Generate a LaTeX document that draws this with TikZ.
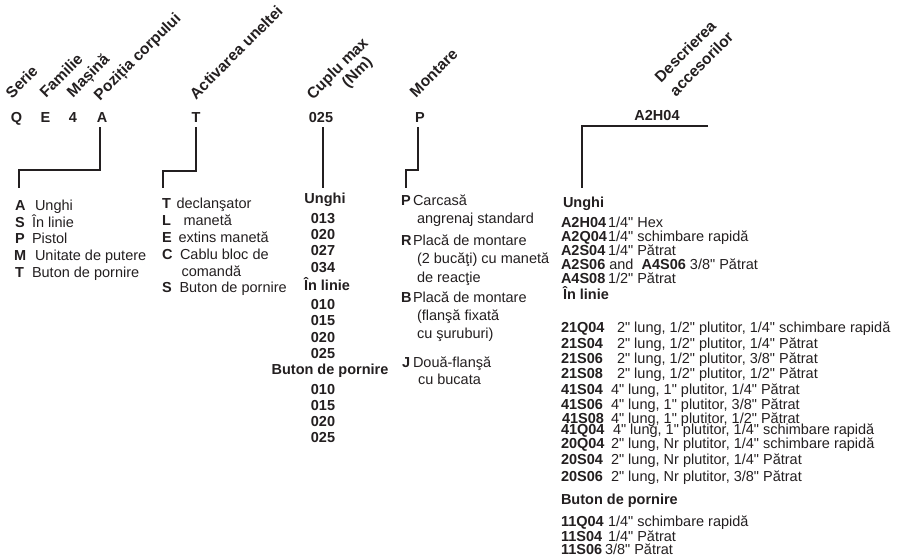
\documentclass[tikz,border=0pt]{standalone}
\usepackage{fontspec}
\setmainfont{Liberation Sans}[Ligatures=TeXOff]
\definecolor{ink}{HTML}{231F20}
\begin{document}
\begin{tikzpicture}[x=1pt,y=-1pt,
  every node/.style={inner sep=0pt,outer sep=0pt,text=ink},
  txt/.style={anchor=base west,font=\fontsize{14.5}{16}\selectfont},
  bt/.style={anchor=base west,font=\fontsize{14.5}{16}\selectfont\bfseries},
  bc/.style={anchor=base,font=\fontsize{14.5}{16}\selectfont\bfseries},
  rot/.style={rotate=45,anchor=base west,font=\fontsize{15.5}{16}\selectfont\bfseries},
  wire/.style={draw=ink,line width=1.8pt}]
\useasboundingbox (0,0) rectangle (900,557);

% rotated headings
\node[rot] (hSerie) at (12,99) {Serie};
\node[rot] (hFam) at (46,98) {Familie};
\node[rot] (hMas) at (73,98) {Mașină};
\node[rot] (hPoz) at (100,101) {Poziția corpului};
\node[rot] (hAct) at (196,100) {Activarea uneltei};
\node[rot] (hCup) at (313,100) {Cuplu max};
\node[rot] (hNm) at (348,88) {(Nm)};
\node[rot] (hMon) at (416,98) {Montare};
\node[rot] (hDes) at (661,83) {Descrierea};
\node[rot] (hAcc) at (676,97) {accesorilor};

% code letters
\node[bc] (cQ) at (16.5,122) {Q};
\node[bc] (cE) at (45.5,122) {E};
\node[bc] (c4) at (73,122) {4};
\node[bc] (cA) at (102,122) {A};
\node[bc] (cT) at (196,122) {T};
\node[bc] (c025) at (321,122) {025};
\node[bc] (cP) at (420,122) {P};
\node[bc] (cH) at (657,120) {A2H04};

% connectors
\coordinate (a0) at (100,127); \coordinate (a1) at (100,170); \coordinate (a2) at (19,170); \coordinate (a3) at (19,188);
\draw[wire] (a0) -- (a1) -- (a2) -- (a3);
\coordinate (t0) at (196,127); \coordinate (t1) at (196,171); \coordinate (t2) at (163,171); \coordinate (t3) at (163,188);
\draw[wire] (t0) -- (t1) -- (t2) -- (t3);
\coordinate (n0) at (323,127); \coordinate (n1) at (323,188);
\draw[wire] (n0) -- (n1);
\coordinate (p0) at (418,127); \coordinate (p1) at (418,170); \coordinate (p2) at (406,170); \coordinate (p3) at (406,188);
\draw[wire] (p0) -- (p1) -- (p2) -- (p3);
\coordinate (h0) at (708,126); \coordinate (h1) at (582,126); \coordinate (h2) at (582,188);
\draw[wire] (h0) -- (h1) -- (h2);

% list A
\node[bt] (lA) at (15,210) {A}; \node[txt] (lAt) at (35,210) {Unghi};
\node[bt] (lS) at (15,227) {S}; \node[txt] (lSt) at (32,227) {În linie};
\node[bt] (lP) at (15,243) {P}; \node[txt] (lPt) at (32,243) {Pistol};
\node[bt] (lM) at (14,260) {M}; \node[txt] (lMt) at (35,260) {Unitate de putere};
\node[bt] (lT) at (15,277) {T}; \node[txt] (lTt) at (32,277) {Buton de pornire};

% list T
\node[bt] (mT) at (162,208) {T}; \node[txt] (mTt) at (176.5,208) {declanşator};
\node[bt] (mL) at (162,225) {L}; \node[txt] (mLt) at (183.5,225) {manetă};
\node[bt] (mE) at (162,242) {E}; \node[txt] (mEt) at (178.5,242) {extins manetă};
\node[bt] (mC) at (162,259) {C}; \node[txt] (mCt) at (180,259) {Cablu bloc de};
\node[txt] (mCt2) at (181.5,276) {comandă};
\node[bt] (mS) at (162,292) {S}; \node[txt] (mSt) at (179.5,292) {Buton de pornire};

% torque column
\node[bc] (q1) at (325,203) {Unghi};
\node[bc] (q2) at (323,223) {013};
\node[bc] (q3) at (323,239) {020};
\node[bc] (q4) at (323,255) {027};
\node[bc] (q5) at (323,272) {034};
\node[bc] (q6) at (327,290) {În linie};
\node[bc] (q7) at (323,309) {010};
\node[bc] (q8) at (323,325) {015};
\node[bc] (q9) at (323,342) {020};
\node[bc] (q10) at (323,358) {025};
\node[bc] (q11) at (330,374) {Buton de pornire};
\node[bc] (q12) at (323,394) {010};
\node[bc] (q13) at (323,410) {015};
\node[bc] (q14) at (323,426) {020};
\node[bc] (q15) at (323,442) {025};

% mounting column
\node[bt] (rP) at (401,205) {P}; \node[txt] (rPt) at (413,205) {Carcasă};
\node[txt] (rPt2) at (417,223) {angrenaj standard};
\node[bt] (rR) at (401,245) {R}; \node[txt] (rRt) at (413,245) {Placă de montare};
\node[txt] (rRt2) at (417,263) {(2 bucăţi) cu manetă};
\node[txt] (rRt3) at (417,282) {de reacţie};
\node[bt] (rB) at (401,302) {B}; \node[txt] (rBt) at (413,302) {Placă de montare};
\node[txt] (rBt2) at (417,320) {(flanşă fixată};
\node[txt] (rBt3) at (417,338) {cu şuruburi)};
\node[bt] (rJ) at (402,367) {J}; \node[txt] (rJt) at (413,367) {Două-flanşă};
\node[txt] (rJt2) at (418,384) {cu bucata};

% accessories column
\node[bt] (s1) at (563,207) {Unghi};
\node[bt] (s2) at (561,227) {A2H04}; \node[txt] (s2t) at (608,227) {1/4" Hex};
\node[bt] (s3) at (561,241) {A2Q04}; \node[txt] (s3t) at (608,241) {1/4" schimbare rapidă};
\node[bt] (s4) at (561,255) {A2S04}; \node[txt] (s4t) at (608,255) {1/4" Pătrat};
\node[txt] (s5) at (561,269) {\textbf{A2S06} and\ \ \textbf{A4S06} 3/8" Pătrat};
\node[bt] (s6) at (561,283) {A4S08}; \node[txt] (s6t) at (608,283) {1/2" Pătrat};
\node[bt] (s7) at (563,299) {În linie};
\node[bt] (s8) at (561,332) {21Q04}; \node[txt] (s8t) at (617,332) {2" lung, 1/2" plutitor, 1/4" schimbare rapidă};
\node[bt] (s9) at (561,348) {21S04}; \node[txt] (s9t) at (617,348) {2" lung, 1/2" plutitor, 1/4" Pătrat};
\node[bt] (s10) at (561,363) {21S06}; \node[txt] (s10t) at (617,363) {2" lung, 1/2" plutitor, 3/8" Pătrat};
\node[bt] (s11) at (561,378) {21S08}; \node[txt] (s11t) at (617,378) {2" lung, 1/2" plutitor, 1/2" Pătrat};
\node[bt] (s12) at (561,394) {41S04}; \node[txt] (s12t) at (611,394) {4" lung, 1" plutitor, 1/4" Pătrat};
\node[bt] (s13) at (561,409) {41S06}; \node[txt] (s13t) at (611,409) {4" lung, 1" plutitor, 3/8" Pătrat};
\node[bt] (s14) at (562,423) {41S08}; \node[txt] (s14t) at (611,423) {4" lung, 1" plutitor, 1/2" Pătrat};
\node[bt] (s15) at (561,434) {41Q04}; \node[txt] (s15t) at (613,434) {4" lung, 1" plutitor, 1/4" schimbare rapidă};
\node[bt] (s16) at (561,448) {20Q04}; \node[txt] (s16t) at (611,448) {2" lung, Nr plutitor, 1/4" schimbare rapidă};
\node[bt] (s17) at (561,464) {20S04}; \node[txt] (s17t) at (611,464) {2" lung, Nr plutitor, 1/4" Pătrat};
\node[bt] (s18) at (561,481) {20S06}; \node[txt] (s18t) at (611,481) {2" lung, Nr plutitor, 3/8" Pătrat};
\node[bt] (s19) at (561,504) {Buton de pornire};
\node[bt] (s20) at (561,526) {11Q04}; \node[txt] (s20t) at (608,526) {1/4" schimbare rapidă};
\node[bt] (s21) at (561,541) {11S04}; \node[txt] (s21t) at (608,541) {1/4" Pătrat};
\node[bt] (s22) at (561,554) {11S06}; \node[txt] (s22t) at (605,554) {3/8" Pătrat};
\end{tikzpicture}
\end{document}
